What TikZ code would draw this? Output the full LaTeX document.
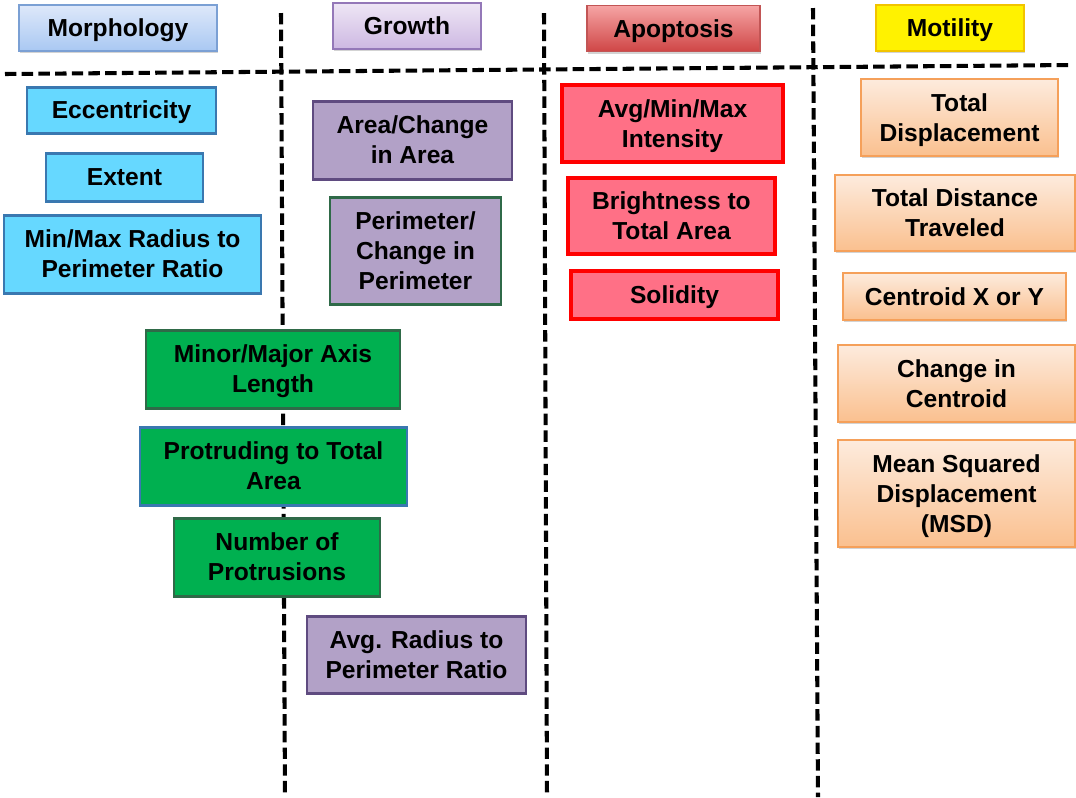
\documentclass[tikz,border=0pt]{standalone}
\usepackage{fontspec}
\setmainfont{Liberation Sans}
\usepackage{tikz}
\usetikzlibrary{shadows}

\newlength\pxu
\setlength\pxu{0.2mm}

\definecolor{morphfill}{HTML}{66D8FF}
\definecolor{morphline}{HTML}{3A78B0}
\definecolor{greenfill}{HTML}{00B050}
\definecolor{greenline}{HTML}{2F6A48}
\definecolor{growfill}{HTML}{B2A1C7}
\definecolor{growline}{HTML}{5F4B80}
\definecolor{apopfill}{HTML}{FF7086}
\definecolor{apopline}{HTML}{FF0000}
\definecolor{motiltop}{HTML}{FDEBDD}
\definecolor{motilbot}{HTML}{FAC08F}
\definecolor{motilline}{HTML}{F5A05A}
\definecolor{morphtop}{HTML}{DEE8FA}
\definecolor{morphbot}{HTML}{A9C8F2}
\definecolor{morphedge}{HTML}{7BA0D4}
\definecolor{growtop}{HTML}{EEE6F5}
\definecolor{growbot}{HTML}{CDB8E2}
\definecolor{growedge}{HTML}{9478B8}
\definecolor{apoptop}{HTML}{F6A4A4}
\definecolor{apopbot}{HTML}{CF4646}
\definecolor{apopedge}{HTML}{C25555}
\definecolor{motiledge}{HTML}{F2C400}

\tikzset{
  feature/.style={rectangle, align=center, font=\fontsize{14}{17}\selectfont\bfseries, inner sep=2pt, text depth=-1pt},
  morphbox/.style={feature, fill=morphfill, draw=morphline, line width=1.7pt},
  axisbox/.style={feature, fill=greenfill, draw=greenline, line width=1.7pt},
  growbox/.style={feature, fill=growfill, draw=growline, line width=1.7pt},
  apopbox/.style={feature, fill=apopfill, draw=apopline, line width=2.2pt},
  motilbox/.style={feature, top color=motiltop, bottom color=motilbot, draw=motilline, line width=0.8pt,
    drop shadow={shadow xshift=0.8pt, shadow yshift=-1.2pt, opacity=0.35}},
  header/.style={feature, line width=0.7pt, minimum height=46\pxu,
    drop shadow={shadow xshift=0.8pt, shadow yshift=-1.2pt, opacity=0.35}},
  divider/.style={line width=2.3pt, dash pattern=on 6.5pt off 3pt}
}

\begin{document}
\begin{tikzpicture}[x=0.2mm, y=-0.2mm]
		\useasboundingbox (0,0) rectangle (1076,797);

		% draw dividing lines
		\draw[divider] (5,74) -- (1072,65);
		\draw[divider] (281,13) -- (285,797);
		\draw[divider] (544,13) -- (547,797);
		\draw[divider] (813,8) -- (818,797);

		% draw column headers
		\node[header, minimum width=198\pxu, top color=morphtop, bottom color=morphbot, draw=morphedge] (morphology) at (118,28) {Morphology};
		\node[header, minimum width=148\pxu, top color=growtop, bottom color=growbot, draw=growedge] (growth) at (407,26) {Growth};
		\node[header, minimum width=173\pxu, top color=apoptop, bottom color=apopbot, draw=apopedge] (apoptosis) at (673.5,28.5) {Apoptosis};
		\node[header, minimum width=148\pxu, fill=yellow, draw=motiledge] (motility) at (950,28) {Motility};

		% draw morphology features
		\node[morphbox, minimum width=189\pxu, minimum height=46\pxu] (eccentricity) at (121.5,110) {Eccentricity};
		\node[morphbox, minimum width=157\pxu, minimum height=48\pxu] (extent) at (124.5,177) {Extent};
		\node[morphbox, minimum width=257\pxu, minimum height=78\pxu] (minmaxradius) at (132.5,254) {Min/Max Radius to\\Perimeter Ratio};
		\node[axisbox, minimum width=254\pxu, minimum height=78\pxu] (axislength) at (273,369) {Minor/Major Axis\\Length};
		\node[axisbox, draw=morphline, minimum width=267\pxu, minimum height=78\pxu] (protruding) at (273.5,466) {Protruding to Total\\Area};
		\node[axisbox, minimum width=206\pxu, minimum height=78\pxu] (protrusions) at (277,557) {Number of\\Protrusions};

		% draw growth features
		\node[growbox, minimum width=199\pxu, minimum height=78\pxu] (area) at (412.5,140) {Area/Change\\in Area};
		\node[growbox, draw=greenline, minimum width=171\pxu, minimum height=107\pxu] (perimeter) at (415.5,250.5) {Perimeter/\\Change in\\Perimeter};
		\node[growbox, minimum width=219\pxu, minimum height=77\pxu] (avgradius) at (416.5,654.5) {Avg. Radius to\\Perimeter Ratio};

		% draw apoptosis features
		\node[apopbox, minimum width=221\pxu, minimum height=77\pxu] (intensity) at (672.5,123.5) {Avg/Min/Max\\Intensity};
		\node[apopbox, minimum width=207\pxu, minimum height=76\pxu] (brightness) at (671.5,216) {Brightness to\\Total Area};
		\node[apopbox, minimum width=207\pxu, minimum height=48\pxu] (solidity) at (674.5,295) {Solidity};

		% draw motility features
		\node[motilbox, minimum width=197\pxu, minimum height=77\pxu] (displacement) at (959.5,117.5) {Total\\Displacement};
		\node[motilbox, minimum width=240\pxu, minimum height=76\pxu] (distance) at (955,213) {Total Distance\\Traveled};
		\node[motilbox, minimum width=223\pxu, minimum height=47\pxu] (centroid) at (954.5,296.5) {Centroid X or Y};
		\node[motilbox, minimum width=237\pxu, minimum height=77\pxu] (centroidchange) at (956.5,383.5) {Change in\\Centroid};
		\node[motilbox, minimum width=237\pxu, minimum height=107\pxu] (msd) at (956.5,493.5) {Mean Squared\\Displacement\\(MSD)};
		\end{tikzpicture}
\end{document}
